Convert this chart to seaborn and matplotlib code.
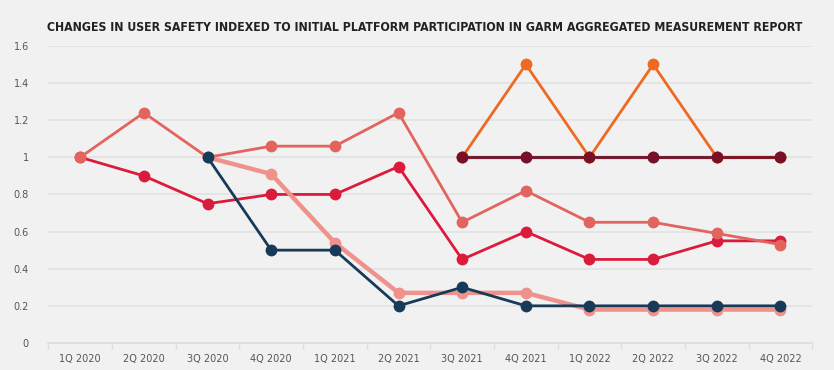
import numpy as np
import pandas as pd
import matplotlib
matplotlib.use("Agg")
import matplotlib.pyplot as plt
import seaborn as sns

quarters = ["1Q 2020", "2Q 2020", "3Q 2020", "4Q 2020", "1Q 2021", "2Q 2021",
            "3Q 2021", "4Q 2021", "1Q 2022", "2Q 2022", "3Q 2022", "4Q 2022"]

# values; None = platform not yet reporting
crimson_vals = [1.0, 0.9, 0.75, 0.8, 0.8, 0.95, 0.45, 0.6, 0.45, 0.45, 0.55, 0.55]
salmon_vals = [1.0, 1.24, 1.0, 1.06, 1.06, 1.24, 0.65, 0.82, 0.65, 0.65, 0.59, 0.53]
pink_vals = [None, None, 1.0, 0.91, 0.54, 0.27, 0.27, 0.27, 0.18, 0.18, 0.18, 0.18]
navy_vals = [None, None, 1.0, 0.5, 0.5, 0.2, 0.3, 0.2, 0.2, 0.2, 0.2, 0.2]
teal_vals = [None] * 6 + [1.0, 1.0, 1.0, 1.0, 1.0, 1.0]
orange_vals = [None] * 6 + [1.0, 1.5, 1.0, 1.5, 1.0, 1.0]
maroon_vals = [None] * 6 + [1.0, 1.0, 1.0, 1.0, 1.0, 1.0]

series = [
    ("crimson", crimson_vals, "#DB1B3C", 2.0),
    ("salmon", salmon_vals, "#E2645F", 2.0),
    ("pink", pink_vals, "#EE928B", 3.2),
    ("navy", navy_vals, "#173A58", 2.0),
    ("teal", teal_vals, "#5DB5B0", 2.4),
    ("orange", orange_vals, "#EE6A22", 2.0),
    ("maroon", maroon_vals, "#7A1026", 2.0),
]

title = "CHANGES IN USER SAFETY INDEXED TO INITIAL PLATFORM PARTICIPATION IN GARM AGGREGATED MEASUREMENT REPORT"

bg = "#F1F1F1"
fig, ax = plt.subplots(figsize=(8.34, 3.70), dpi=100)
fig.patch.set_facecolor(bg)
ax.set_facecolor(bg)

for name, vals, color, lw in series:
    df = pd.DataFrame({"x": np.arange(len(quarters)), "y": vals}).dropna()
    sns.lineplot(data=df, x="x", y="y", ax=ax, color=color, linewidth=lw,
                 marker="o", markersize=8.5, markeredgewidth=0,
                 markeredgecolor=color, sort=False)

ax.set_xlim(-0.5, len(quarters) - 0.5)
ax.set_ylim(0, 1.6)
ax.set_xticks(np.arange(len(quarters)))
ax.set_xticklabels(quarters)
ax.set_xticks(np.arange(len(quarters) + 1) - 0.5, minor=True)
ax.set_yticks(np.arange(0, 1.61, 0.2))
ax.set_yticklabels(["0", "0.2", "0.4", "0.6", "0.8", "1", "1.2", "1.4", "1.6"])
ax.set_xlabel("")
ax.set_ylabel("")

ax.grid(axis="y", color="#E2E2E2", linewidth=1.2)
ax.set_axisbelow(True)
for side in ["top", "right", "left"]:
    ax.spines[side].set_visible(False)
ax.spines["bottom"].set_color("#DDDDDD")
ax.spines["bottom"].set_linewidth(1.2)
ax.tick_params(axis="x", which="major", length=0, pad=8, labelsize=7, labelcolor="#555555")
ax.tick_params(axis="x", which="minor", length=4, color="#DDDDDD", width=1)
ax.tick_params(axis="y", length=0, pad=14, labelsize=7, labelcolor="#555555")

fig.subplots_adjust(left=0.058, right=0.974, bottom=0.073, top=0.876)

# title: bold, condensed look -> shrink to the width seen in the reference
t = fig.text(0.509, 0.925, title, ha="center", va="center", fontsize=9.5,
             fontweight="bold", color="#222222", family="DejaVu Sans",
             stretch="condensed")
fig.canvas.draw()
w = t.get_window_extent().width
target = 760
if w > target:
    t.set_fontsize(9.5 * target / w)

fig.savefig("out.png", dpi=100, facecolor=bg)
